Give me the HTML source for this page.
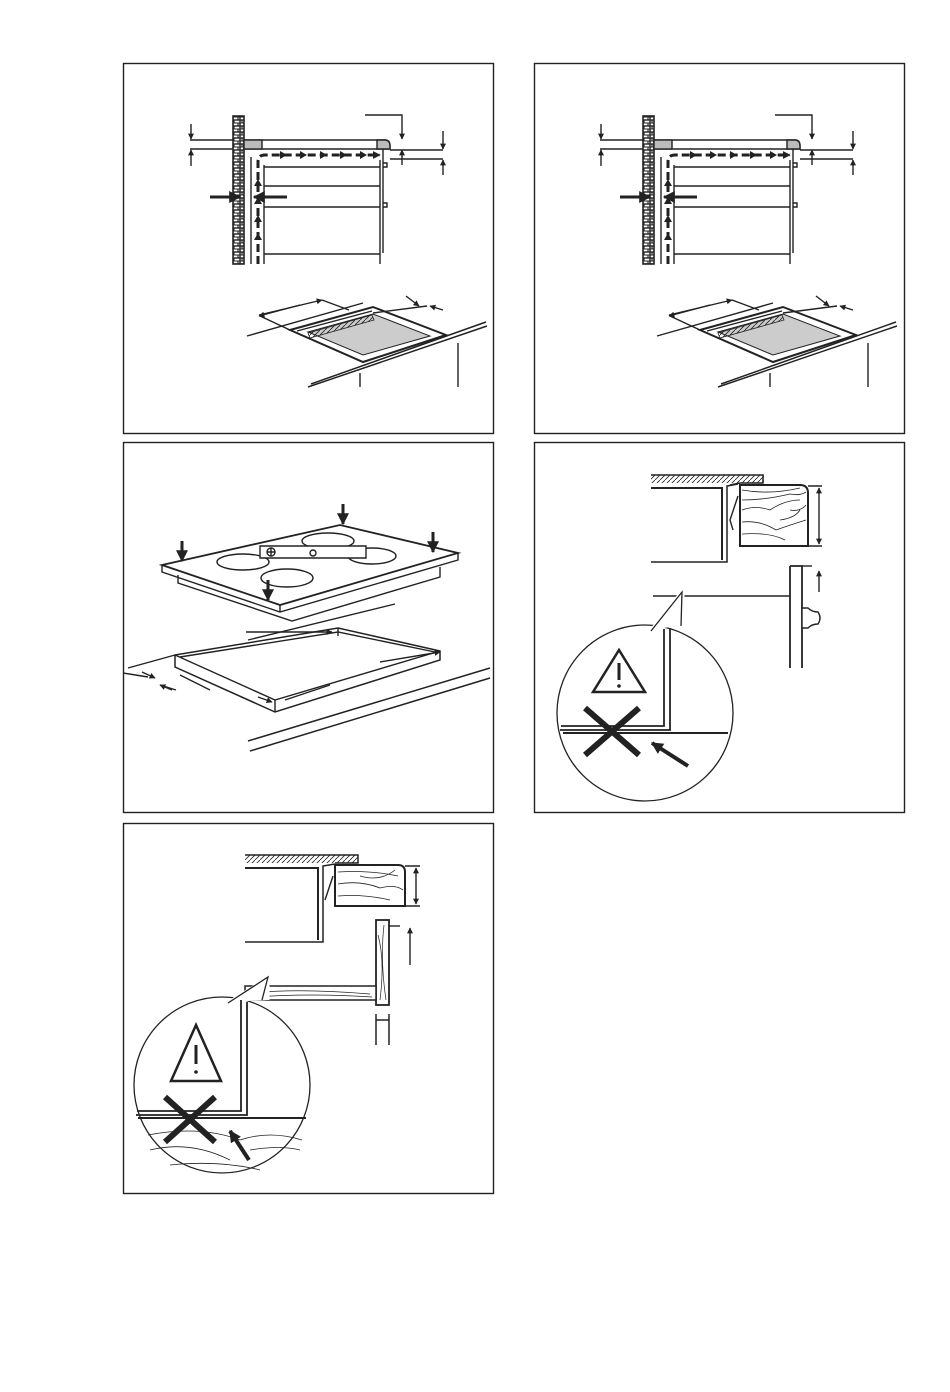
<!DOCTYPE html>
<html><head><meta charset="utf-8"><style>
html,body{margin:0;padding:0;background:#fff;}
svg{display:block;}
</style></head><body>
<svg width="950" height="1392" viewBox="0 0 950 1392" xmlns="http://www.w3.org/2000/svg" fill="none" stroke="#222" stroke-width="1.4">
<defs>
<pattern id="brick" width="8" height="6" patternUnits="userSpaceOnUse">
<rect width="8" height="6" fill="#fff"/>
<path d="M0 3H8M0 6H8M2 0V3M6 3V6" stroke="#222" stroke-width="1.1"/>
</pattern>
<pattern id="hatch" width="5" height="5" patternUnits="userSpaceOnUse">
<path d="M0 5L5 0" stroke="#222" stroke-width="0.8"/>
</pattern>
<marker id="ah" viewBox="0 0 10 10" refX="9" refY="5" markerWidth="12" markerHeight="12" markerUnits="userSpaceOnUse" orient="auto"><path d="M0 0L10 5L0 10z" fill="#222" stroke="none"/></marker>
<marker id="ahs" viewBox="0 0 10 10" refX="9" refY="5" markerWidth="8" markerHeight="8" markerUnits="userSpaceOnUse" orient="auto"><path d="M0 0L10 5L0 10z" fill="#222" stroke="none"/></marker>
<marker id="ahb" viewBox="0 0 10 10" refX="9" refY="5" markerWidth="6" markerHeight="6" markerUnits="userSpaceOnUse" orient="auto"><path d="M0 0L10 5L0 10z" fill="#222" stroke="none"/></marker>
<g id="sect">
  <rect x="233" y="116" width="11" height="148" fill="url(#brick)" stroke="#222" stroke-width="1.6"/>
  <path d="M244 140H385Q390 140 390 146V149H244Z" fill="#fff"/>
  <rect x="244" y="140" width="18" height="9" fill="#bbb"/>
  <path d="M377 140H385Q390 140 390 146V149H377Z" fill="#bbb"/>
  <path d="M251 157V264M264 165V264"/>
  <path d="M264 167H380M264 186H380M264 207H380M264 254H380M380 160V264M383 149V253"/>
  <path d="M383 163h4v4h-4M383 203h4v4h-4"/>
  <path d="M258 264V162Q258 155 265 155H380" stroke-width="3" stroke-dasharray="8 4" marker-end="url(#ahs)"/>
  <g fill="#222" stroke="none">
   <path d="M254 240h8l-4 -7z M254 222h8l-4 -7z M254 204h8l-4 -7z M254 186h8l-4 -7z"/>
   <path d="M280 151v8l7 -4z M300 151v8l7 -4z M320 151v8l7 -4z M340 151v8l7 -4z M360 151v8l7 -4z"/>
  </g>
  <path d="M210 197H240" stroke-width="3" marker-end="url(#ah)"/>
  <path d="M287 197H254" stroke-width="3" marker-end="url(#ah)"/>
  <path d="M190 140H233M190 149H233"/>
  <path d="M191 124V139" marker-end="url(#ahb)"/><path d="M191 166V150" marker-end="url(#ahb)"/>
  <path d="M365 115H402V139" marker-end="url(#ahb)"/>
  <path d="M402 165V150" marker-end="url(#ahb)"/>
  <path d="M390 150H443M390 159H443"/>
  <path d="M443 131V149" marker-end="url(#ahb)"/><path d="M443 175V160" marker-end="url(#ahb)"/>
  <path d="M308 387L487 326M311 384L486 322" stroke-width="1.5"/>
  <path d="M360 373V387M458 343V387"/>
  <path d="M247 336L363 303"/>
  <path d="M290 330L373 307L446 335L363 362Z" stroke-width="2"/>
  <path d="M308 332L373 314L430 336L363 355Z" fill="#ccc" stroke-width="1"/>
  <path d="M297 331L372 311" />
  <path d="M308 333L372 315L374 320L310 338Z" fill="url(#hatch)" stroke-width="0.8"/>
  <path d="M259 315L322 300" marker-end="url(#ahb)"/><path d="M300 305L259 316" marker-end="url(#ahb)"/>
  <path d="M322 300L349 310M260 316L290 330"/>
  <path d="M406 296L419 306" marker-end="url(#ahb)"/><path d="M443 310L430 306" marker-end="url(#ahb)"/>
  <path d="M373 313L427 306"/>
</g>
</defs>

<rect x="123.5" y="63.5" width="370" height="370"/>
<rect x="534.5" y="63.5" width="370" height="370"/>
<rect x="123.5" y="442.5" width="370" height="370"/>
<rect x="534.5" y="442.5" width="370" height="370"/>
<rect x="123.5" y="823.5" width="370" height="370"/>

<use href="#sect"/>
<use href="#sect" x="410"/>

<g>
 <path d="M162 565L340 525L458 553L280 605Z" fill="#fff" stroke-width="1.8"/>
 <path d="M162 565V572L280 612L458 560V553"/>
 <path d="M178 575V583L292 621L440 577V567"/>
 <path d="M280 605V612"/>
 <ellipse cx="243" cy="562" rx="26" ry="8"/>
 <ellipse cx="287" cy="578" rx="26" ry="9"/>
 <ellipse cx="328" cy="541" rx="26" ry="8"/>
 <ellipse cx="372" cy="556" rx="24" ry="8"/>
 <path d="M260 546L366 546L366 558L260 558Z" fill="#fff"/>
 <circle cx="271" cy="552" r="4"/><path d="M267 552h8M271 548v8"/>
 <circle cx="313" cy="553" r="3"/>
 <path d="M343 504V524" stroke-width="3" marker-end="url(#ah)"/>
 <path d="M182 541V561" stroke-width="3" marker-end="url(#ah)"/>
 <path d="M433 532V552" stroke-width="3" marker-end="url(#ah)"/>
 <path d="M268 580V600" stroke-width="3" marker-end="url(#ah)"/>
 <path d="M395 604L248 640"/>
 <path d="M175 655L338 628L440 651V660L275 712L175 667Z" fill="#fff" stroke-width="1.5"/>
 <path d="M175 655L275 700L440 651M275 700V712"/>
 <path d="M180 657L338 632L435 652"/>
 <path d="M338 628V636"/>
 <path d="M248 741L490 668M250 751L490 678" stroke-width="1.5"/>
 <path d="M246 632L332 632" marker-end="url(#ahb)"/>
 <path d="M380 662L440 652" marker-end="url(#ahb)"/>
 <path d="M258 697L272 702" marker-end="url(#ahb)"/><path d="M330 685L285 700"/>
 <path d="M128 668L175 655" /><path d="M123 673L148 677M160 685L176 690"/>
 <path d="M142 672L155 678" marker-end="url(#ahb)"/><path d="M172 690L160 685" marker-end="url(#ahb)"/>
 <path d="M180 675L210 690"/>
</g>

<g>
 <rect x="651" y="475" width="113" height="8" fill="url(#hatch)" stroke="none"/>
 <path d="M651 475H763V483H740L730 485" stroke-width="1.5"/>
 <path d="M651 488H722V560" stroke-width="2"/>
 <path d="M651 562H727V486L738 484" stroke-width="1.5"/>
 <path d="M738 496L730 520L733 530" />
 <path d="M740 485H800Q808 485 808 493V546H740Z" fill="#fff" stroke-width="2"/>
 <path d="M742 490Q770 495 800 488M742 500Q765 500 790 494Q800 496 806 492M742 510Q755 505 770 510Q785 500 800 500M742 522Q760 520 776 530Q790 525 806 520M742 534Q770 532 785 540M790 510Q800 512 806 505M780 520Q795 518 800 510" stroke-width="0.8"/>
 <path d="M808 486H822M808 546H822"/>
 <path d="M819 520V488" marker-end="url(#ahb)"/><path d="M819 520V544" marker-end="url(#ahb)"/>
 <path d="M790 566H802V668M790 566V668" stroke-width="1.8"/>
 <path d="M802 566H812"/><path d="M819 592V571" marker-end="url(#ahb)"/>
 <path d="M802 608h6q4 4 10 4q4 6 0 12q-6 0 -10 4h-6z" fill="#fff"/>
 <path d="M653 596H790" stroke-width="1.5"/>
 <circle cx="645" cy="713" r="88" fill="#fff" stroke-width="1.3"/>
 <path d="M651 630L683 590L683 625" fill="#fff" stroke="#fff" stroke-width="3"/>
 <path d="M651 631L682 592L681 626" stroke-width="1.3"/>
 <path d="M664 629V726H561M670 628V730H560" stroke-width="1.8"/>
 <path d="M563 733H728" stroke-width="2"/>
 <path d="M619 650L593 692H645Z" stroke-width="2.5"/>
 <path d="M619 663V680" stroke-width="3"/><circle cx="619" cy="686" r="1.8" fill="#222" stroke="none"/>
 <path d="M585 708L639 755M639 708L585 755" stroke-width="6"/>
 <path d="M688 766L652 743" stroke-width="4" marker-end="url(#ah)"/>
</g>

<g>
 <rect x="245" y="855" width="113" height="8" fill="url(#hatch)" stroke="none"/>
 <path d="M245 855H358V863H335" stroke-width="1.5"/>
 <path d="M245 868H318V940" stroke-width="2"/>
 <path d="M245 942H323V866L335 864" stroke-width="1.5"/>
 <path d="M333 876L325 900"/>
 <path d="M335 865H398Q405 865 405 872V906H335Z" fill="#fff" stroke-width="2"/>
 <path d="M338 872Q370 870 398 876M338 884Q360 880 380 888Q395 884 403 890M338 896Q365 894 390 900M360 876Q380 882 395 870" stroke-width="0.8"/>
 <path d="M405 866H420M405 906H420"/>
 <path d="M416 886V868" marker-end="url(#ahb)"/><path d="M416 886V904" marker-end="url(#ahb)"/>
 <rect x="376" y="920" width="13" height="85" fill="#fff" stroke-width="1.8"/>
 <path d="M378 935Q385 960 380 1000M384 925Q380 960 386 1000" stroke-width="0.7"/>
 <path d="M376 1014V1045M389 1014V1045M376 1020h13" stroke-width="1.5"/>
 <path d="M389 926H400"/><path d="M410 965V928" marker-end="url(#ahb)"/>
 <rect x="245" y="986" width="131" height="14" fill="#fff" stroke-width="1.5"/>
 <path d="M250 993Q300 988 370 994M255 997Q310 993 372 997" stroke-width="0.7"/>
 <circle cx="222" cy="1085" r="88" fill="#fff" stroke-width="1.3"/>
 <path d="M229 1002L268 978L268 1000" fill="#fff" stroke="#fff" stroke-width="3"/>
 <path d="M228 1003L268 977L262 1000" stroke-width="1.3"/>
 <path d="M241 1000V1111H137M247 1002V1115H136" stroke-width="1.8"/>
 <path d="M138 1118H306" stroke-width="2"/>
 <path d="M148 1135Q200 1125 240 1140Q270 1130 302 1140M150 1150Q190 1140 230 1160M170 1165Q220 1160 260 1170M250 1150Q280 1145 300 1150" stroke-width="0.8"/>
 <path d="M196 1025L171 1081H221Z" stroke-width="2.5"/>
 <path d="M196 1045V1064" stroke-width="3"/><circle cx="196" cy="1072" r="1.8" fill="#222" stroke="none"/>
 <path d="M165 1097L215 1142M215 1097L165 1142" stroke-width="6"/>
 <path d="M249 1160L230 1131" stroke-width="4" marker-end="url(#ah)"/>
</g>
</svg>
</body></html>
